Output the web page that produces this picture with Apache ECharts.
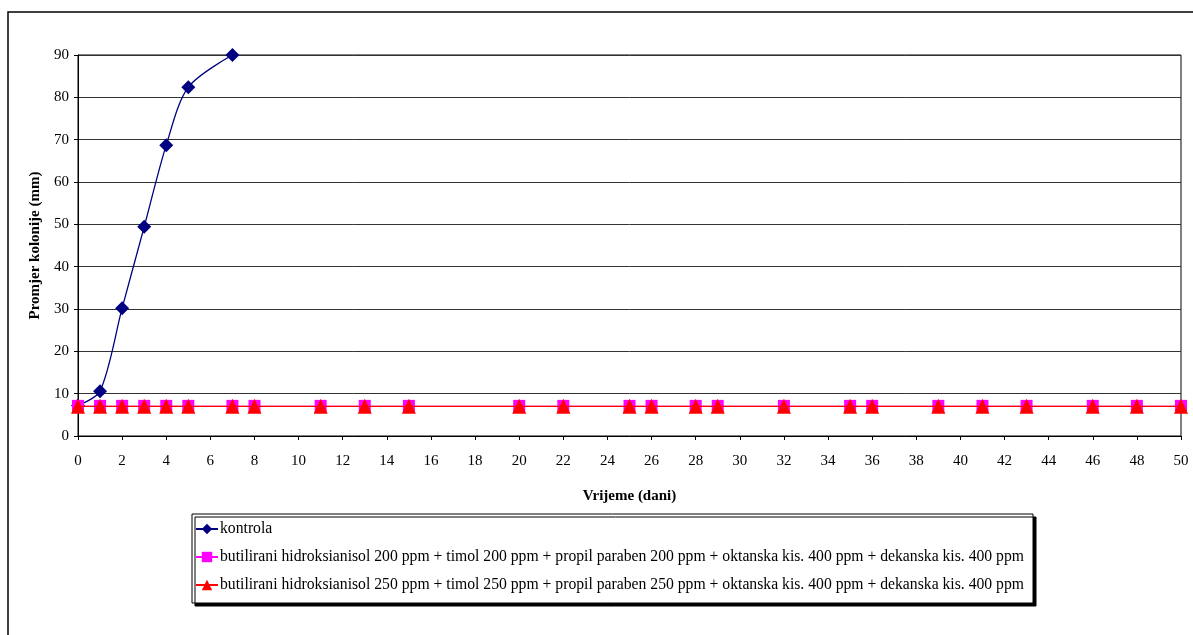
<!DOCTYPE html>
<html>
<head>
<meta charset="utf-8">
<script src="https://cdn.jsdelivr.net/npm/echarts@6/dist/echarts.min.js"></script>
<style>
html,body{margin:0;padding:0;background:#fff;}
#c{width:1193px;height:635px;}
</style>
</head>
<body>
<div id="c"></div>
<script>
const seriesNames = [
  'kontrola',
  'butilirani hidroksianisol 200 ppm + timol 200 ppm + propil paraben 200 ppm + oktanska kis. 400 ppm + dekanska kis. 400 ppm',
  'butilirani hidroksianisol 250 ppm + timol 250 ppm + propil paraben 250 ppm + oktanska kis. 400 ppm + dekanska kis. 400 ppm'
];
const controlDays = [0, 1, 2, 3, 4, 5, 7];
const controlValues = [7.2, 10.6, 30.2, 49.4, 68.7, 82.4, 90];
const treatDays = [0, 1, 2, 3, 4, 5, 7, 8, 11, 13, 15, 20, 22, 25, 26, 28, 29, 32, 35, 36, 39, 41, 43, 46, 48, 50];
const treat200Values = [7, 7, 7, 7, 7, 7, 7, 7, 7, 7, 7, 7, 7, 7, 7, 7, 7, 7, 7, 7, 7, 7, 7, 7, 7, 7];
const treat250Values = [7, 7, 7, 7, 7, 7, 7, 7, 7, 7, 7, 7, 7, 7, 7, 7, 7, 7, 7, 7, 7, 7, 7, 7, 7, 7];
const xTitle = 'Vrijeme (dani)';
const yTitle = 'Promjer kolonije (mm)';

const zip = (xs, ys) => xs.map((x, i) => [x, ys[i]]);
const font = 'Liberation Serif';

const chart = echarts.init(document.getElementById('c'));
chart.setOption({
  animation: false,
  backgroundColor: '#fff',
  textStyle: { fontFamily: font },
  grid: { left: 78, right: 12, top: 55, bottom: 199, show: true, borderColor: '#000', borderWidth: 1 },
  xAxis: {
    type: 'value', min: 0, max: 50, interval: 2,
    name: xTitle, nameLocation: 'middle', nameGap: 53,
    nameTextStyle: { fontFamily: font, fontWeight: 'bold', fontSize: 15, color: '#000' },
    axisLine: { show: true, lineStyle: { color: '#000' } },
    axisTick: { show: true, length: 4, lineStyle: { color: '#000' } },
    axisLabel: { fontFamily: font, fontSize: 15, color: '#000', margin: 18 },
    splitLine: { show: false }
  },
  yAxis: {
    type: 'value', min: 0, max: 90, interval: 10,
    name: yTitle, nameLocation: 'middle', nameGap: 35, nameRotate: 90,
    nameTextStyle: { fontFamily: font, fontWeight: 'bold', fontSize: 15, color: '#000' },
    axisLine: { show: true, lineStyle: { color: '#000' } },
    axisTick: { show: true, length: 4, lineStyle: { color: '#000' } },
    axisLabel: { fontFamily: font, fontSize: 15, color: '#000', margin: 9 },
    splitLine: { show: true, lineStyle: { color: '#333', width: 1 } }
  },
  legend: {
    orient: 'vertical', left: 190, top: 516,
    itemWidth: 22, itemHeight: 13, itemGap: 12,
    textStyle: { fontFamily: font, fontSize: 15.7, color: '#000', padding: [0, 0, 0, -3] },
    data: seriesNames
  },
  graphic: [
    { type: 'rect', shape: { x: 8, y: 12, width: 1200, height: 640 }, style: { fill: null, stroke: '#000', lineWidth: 1.5 }, z: 100, silent: true },
    { type: 'rect', shape: { x: 192, y: 514, width: 841, height: 89 }, style: { fill: '#fff', stroke: '#000', lineWidth: 1, shadowColor: '#000', shadowOffsetX: 3, shadowOffsetY: 3, shadowBlur: 0 }, z: -1, silent: true }
  ],
  series: [
    {
      name: seriesNames[0], type: 'line', smooth: 0.3,
      data: zip(controlDays, controlValues),
      symbol: 'diamond', symbolSize: 14,
      lineStyle: { color: '#000080', width: 1.3 },
      itemStyle: { color: '#000080' }, z: 3
    },
    {
      name: seriesNames[1], type: 'line',
      data: zip(treatDays, treat200Values),
      symbol: 'rect', symbolSize: [12, 13],
      lineStyle: { color: '#ff00ff', width: 1.2 },
      itemStyle: { color: '#ff00ff' }, z: 4
    },
    {
      name: seriesNames[2], type: 'line',
      data: zip(treatDays, treat250Values),
      symbol: 'triangle', symbolSize: [14, 15],
      lineStyle: { color: '#ff0000', width: 1.2 },
      itemStyle: { color: '#ff0000' }, z: 5
    }
  ]
});
</script>
</body>
</html>
